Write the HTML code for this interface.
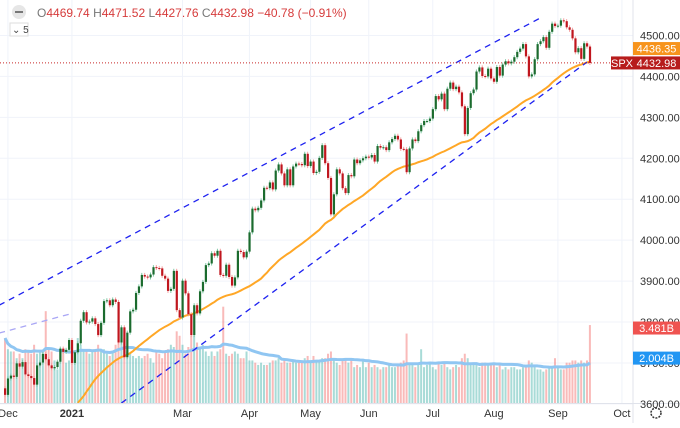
<!DOCTYPE html>
<html><head><meta charset="utf-8"><style>
body{margin:0;background:#fff;width:680px;height:423px;overflow:hidden;font-family:"Liberation Sans",sans-serif}
svg text{font-family:"Liberation Sans",sans-serif}
</style></head><body>
<svg id="chart" width="680" height="423" viewBox="0 0 680 423" xmlns="http://www.w3.org/2000/svg">
<rect width="680" height="423" fill="#fff"/>
<g id="grid"></g>
<g id="vol"></g>
<g id="lines"></g>
<g id="candles"></g>
<g id="axes"></g>
<g>
<circle cx="19" cy="12" r="7" fill="#e6e6e6"/>
<rect x="15" y="11" width="8" height="2" fill="#777"/>
<text x="37" y="17" font-size="12" fill="#d63b3b"><tspan fill="#777">O</tspan>4469.74 <tspan fill="#777">H</tspan>4471.52 <tspan fill="#777">L</tspan>4427.76 <tspan fill="#777">C</tspan>4432.98 −40.78 (−0.91%)</text>
<rect x="10" y="23" width="18" height="13" fill="#fff" stroke="#ddd"/>
<text x="12" y="33" font-size="10" fill="#444">⌄ 5</text>
</g>
</svg>
<script>
const dates=["2020-10-19","2020-10-20","2020-10-21","2020-10-22","2020-10-23","2020-10-26","2020-10-27","2020-10-28","2020-10-29","2020-10-30","2020-11-02","2020-11-03","2020-11-04","2020-11-05","2020-11-06","2020-11-09","2020-11-10","2020-11-11","2020-11-12","2020-11-13","2020-11-16","2020-11-17","2020-11-18","2020-11-19","2020-11-20","2020-11-23","2020-11-24","2020-11-25","2020-11-27"];
const preCloses=[3427,3443,3436,3453,3465,3401,3390,3271,3310,3270,3310,3369,3443,3510,3509,3550,3546,3572,3537,3585,3626,3610,3609,3581,3557,3578,3635,3629,3638];
const closes=[3622,
3662,3669,3666,3699,3691,3702,3672,3668,3663,3647,3694,3701,3722,3709,3694,3687,3690,3703,3735,3727,3732,3756,
3700,3726,3748,3803,3824,3799,3801,3809,3795,3768,3798,3851,3853,3841,3855,3849,3750,3787,3714,
3774,3826,3830,3871,3887,3915,3911,3909,3916,3934,3932,3931,3913,3906,3876,3881,3925,3829,3811,
3901,3870,3819,3768,3841,3821,3875,3898,3939,3943,3968,3962,3974,3915,3913,3940,3910,3889,3909,3974,3971,3958,3972,
4019,4077,4073,4079,4097,4128,4127,4141,4124,4170,4185,4163,4134,4173,4134,4180,4187,4186,4183,4211,4181,
4192,4164,4167,4201,4232,4188,4152,4063,4112,4173,4163,4127,4115,4159,4156,4197,4188,4195,4200,4204,
4202,4208,4192,4230,4226,4227,4220,4239,4247,4255,4246,4223,4222,4166,4224,4246,4242,4266,4281,4291,4291,4297,
4320,4352,4344,4358,4320,4370,4385,4369,4375,4361,4327,4259,4323,4359,4368,4412,4422,4401,4400,4419,4395,
4387,4423,4402,4429,4437,4432,4436,4447,4460,4468,4479,4449,4400,4405,4442,4479,4486,4496,4470,4509,4529,4523,
4524,4537,4535,4520,4514,4493,4459,4469,4443,4481,4473,4433];
const volumes=[2.9,2.4,2.3,2.3,2.0,2.2,2.0,2.4,2.3,2.2,2.6,2.2,2.3,2.3,4.1,2.4,2.3,1.9,1.5,2.4,2.3,1.8,1.9,
2.5,2.2,2.9,2.6,2.3,2.3,2.2,2.3,2.4,2.6,2.3,2.4,2.2,2.1,2.3,2.6,3.6,2.8,2.9,
2.3,2.2,2.1,2.0,2.1,2.0,2.1,2.2,2.0,1.8,2.3,2.2,2.0,2.3,2.4,2.6,2.5,3.2,3.0,
2.6,2.2,2.5,3.0,3.0,2.7,2.5,2.6,2.3,2.1,2.3,2.1,2.3,2.4,4.3,2.2,2.1,2.2,2.3,2.2,2.0,2.0,2.3,
1.9,1.9,1.8,1.7,1.8,1.7,1.7,1.8,1.9,1.9,2.0,1.8,1.9,1.8,1.8,1.9,1.8,1.8,1.8,2.0,2.1,
1.9,2.1,1.9,1.9,2.0,2.0,2.2,2.3,2.0,1.8,1.7,1.9,2.0,1.8,1.9,1.6,1.7,1.6,1.9,1.6,
1.8,1.6,1.7,1.6,1.5,1.6,1.6,1.7,1.6,1.6,1.7,1.8,1.9,3.1,1.8,1.7,1.6,1.7,2.4,1.6,1.7,1.8,
1.6,1.5,1.8,1.7,1.8,1.6,1.5,1.6,1.7,1.6,2.0,2.2,2.0,1.7,1.7,1.7,1.6,1.8,1.8,1.7,1.8,
1.7,1.6,1.7,1.5,1.6,1.5,1.6,1.6,1.5,1.5,1.6,1.7,1.9,1.8,1.7,1.5,1.5,1.4,1.5,1.6,1.6,2.0,
1.6,1.5,1.5,1.8,1.8,1.9,1.9,1.8,1.9,1.8,1.9,3.48];
const priceTicks=[3600,3700,3800,3900,4000,4100,4200,4300,4400,4500];
const monthLabels=["Dec","2021","Mar","Apr","May","Jun","Jul","Aug","Sep","Oct"];
const monthIdx=[1,23,61,84,105,125,147,168,190,212];
const trendUpper=[[-2,3841],[184,4543]];
const trendLower=[[40,3602],[200,4435]];
const trendFaint=[[-2,3773],[22,3819]];
const maLast=4436.35, lastClose=4432.98, volLast=3.481, volMaLast=2.004;

const NS="http://www.w3.org/2000/svg";
const X=i=>5+i*2.91;
const Y=p=>35.5+(4500-p)*0.4093;
const VY=v=>403-v*22.4;
function mk(par,tag,at){const e=document.createElementNS(NS,tag);for(const k in at)e.setAttribute(k,at[k]);document.getElementById(par).appendChild(e);return e;}
// grid
priceTicks.forEach(p=>{const l=mk('grid','line',{x1:0,x2:633,y1:Y(p),y2:Y(p),stroke:'#f0f3fa'});

});
monthIdx.forEach(i=>{const l=mk('grid','line',{x1:X(i),x2:X(i),y1:0,y2:403,stroke:'#f0f3fa'});

});
// volume
const all=preCloses.concat(closes);const off=preCloses.length;
volumes.forEach((v,i)=>{const up=closes[i]>=(i?closes[i-1]:preCloses[off-1]);
const r=mk('vol','rect',{x:X(i)-1,y:VY(v),width:2,height:403-VY(v),fill:up?'rgba(38,166,154,0.4)':'rgba(239,83,80,0.4)'});

});
// volume MA
let pts=[];volumes.forEach((v,i)=>{const s=volumes.slice(Math.max(0,i-19),i+1);const m=s.reduce((a,b)=>a+b,0)/s.length;pts.push(X(i)+','+VY(m));});
const vm=mk('vol','polyline',{points:pts.join(' '),fill:'none',stroke:'#90c6f2',"stroke-width":3,"stroke-linejoin":"round"});


// price MA 50
pts=[];closes.forEach((c,i)=>{const j=i+off;const s=all.slice(Math.max(0,j-49),j+1);const m=s.reduce((a,b)=>a+b,0)/s.length;const y=Y(m);if(y<=404)pts.push(X(i)+','+y);});
const ma=mk('lines','polyline',{points:pts.join(' '),fill:'none',stroke:'#ffa726',"stroke-width":2});


// trend lines
[[trendUpper,'#1e22f0','upper-trend-line'],[trendLower,'#1e22f0','lower-trend-line'],[trendFaint,'#a9a6f5','faint-trend-line']].forEach(([t,c,n])=>{
const l=mk('lines','line',{x1:X(t[0][0]),y1:Y(t[0][1]),x2:X(t[1][0]),y2:Y(t[1][1]),stroke:c,"stroke-width":1.3,"stroke-dasharray":"6 5"});

});
const ll=mk('lines','line',{x1:0,x2:633,y1:Y(lastClose),y2:Y(lastClose),stroke:'#c62828',"stroke-dasharray":"1 2"});


// candles
closes.forEach((c,i)=>{const o=i?closes[i-1]:preCloses[off-1];const up=c>=o;
const w=mk('candles','line',{x1:X(i),x2:X(i),y1:Y(Math.max(o,c)+5),y2:Y(Math.min(o,c)-5),stroke:up?'#7fc9a6':'#f4a0a0'});


const b=mk('candles','rect',{x:X(i)-1,y:Y(Math.max(o,c)),width:2.2,height:Math.max(1,Math.abs(Y(o)-Y(c))),fill:up?'#1b6b2e':'#c0161e'});

});
// axes
const sep=mk('axes','line',{x1:633,x2:633,y1:0,y2:423,stroke:'#e0e3eb'});


const sep2=mk('axes','line',{x1:0,x2:680,y1:403.5,y2:403.5,stroke:'#e0e3eb'});


priceTicks.forEach(p=>{const t=mk('axes','text',{x:640,y:Y(p)+4,"font-size":11,fill:'#333'});t.textContent=p.toFixed(2);

});
monthLabels.forEach((m,k)=>{const t=mk('axes','text',{x:X(monthIdx[k]),y:417,"font-size":11,fill:'#333',"text-anchor":'middle',"font-weight":m==='2021'?'bold':'normal'});t.textContent=m;

});
function tag(x,y,w,bg,txt,name){const r=mk('axes','rect',{x:x,y:y-6.5,width:w,height:13,fill:bg});


const t=mk('axes','text',{x:x+w/2,y:y+4,"font-size":11,fill:'#fff',"text-anchor":'middle'});t.textContent=txt;

}
tag(633,Y(maLast)-13,47,'#f7941d',maLast.toFixed(2),'sma-value-tag');
tag(633,Y(lastClose),47,'#b71c1c',lastClose.toFixed(2),'last-price-tag');
tag(611,Y(lastClose),22,'#b71c1c','SPX','symbol-tag');
tag(633,VY(volLast)+3,47,'#ef5350',volLast.toFixed(3)+'B','volume-value-tag');
tag(633,VY(volMaLast),47,'#2196f3',volMaLast.toFixed(3)+'B','volume-ma-tag');
const g=mk('axes','circle',{cx:656,cy:413,r:5,fill:'none',stroke:'#333',"stroke-width":1.5,"stroke-dasharray":"2 1.2"});


</script>
</body></html>
